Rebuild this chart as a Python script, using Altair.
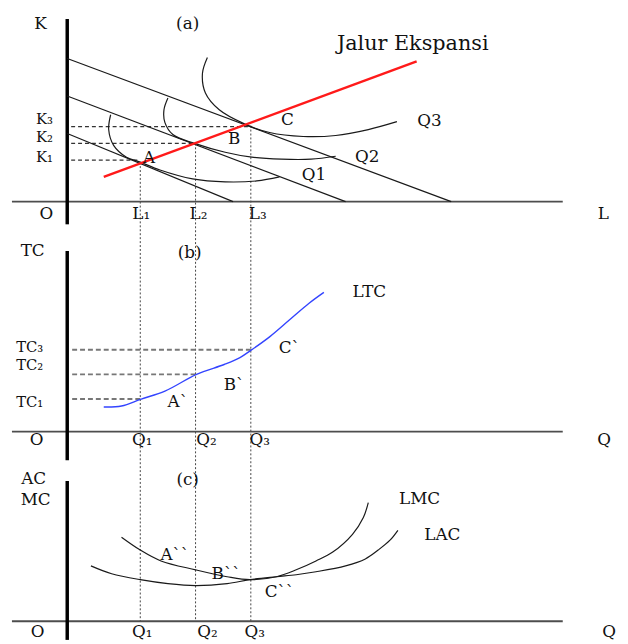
import altair as alt
import pandas as pd

# ---------------- data (diagram coordinates) ----------------
# Panel (a): isocost lines
isocost1_x = [68, 236]
isocost1_y = [131, 200]
isocost2_x = [68, 350]
isocost2_y = [93, 200]
isocost3_x = [68, 457]
isocost3_y = [55, 200]
# Panel (a): isoquants
q1_x = [112, 110, 115, 128, 142, 162, 195, 228, 260, 283]
q1_y = [112, 127, 143, 155, 160, 168, 177, 180, 179, 175]
q2_x = [170, 166, 167, 175, 197, 228, 255, 285, 315, 340]
q2_y = [95, 107, 120, 132, 141, 150, 155, 157, 157, 154]
q3_x = [210, 205, 208, 222, 247, 273, 307, 340, 373, 402]
q3_y = [54, 70, 90, 107, 121, 130, 134, 133, 127, 119]
# Panel (a): expansion path
expansion_x = [105, 422]
expansion_y = [175, 58]
# Panel (b): LTC
ltc_x = [105, 123, 143, 167, 199, 227, 243, 255, 273, 293, 313, 328]
ltc_y = [408, 407, 400, 392, 375, 365, 358, 350, 337, 320, 303, 292]
# Panel (c): LMC and LAC
lmc_x = [123, 142, 163, 198, 230, 253, 280, 300, 320, 337, 357, 368, 373]
lmc_y = [540, 553, 564, 573, 580, 583, 580, 573, 564, 555, 537, 520, 505]
lac_x = [92, 113, 142, 170, 198, 230, 253, 280, 300, 320, 350, 370, 383, 395, 403]
lac_y = [569, 577, 583, 587, 589, 587, 583, 580, 578, 575, 569, 562, 553, 543, 533]

# axes
v_axis_x = [68, 68, 68]
v_axis_y1 = [15, 250, 483]
v_axis_y2 = [223, 462, 644]
h_axis_y = [200, 433, 625]
h_axis_x1 = [12, 12, 12]
h_axis_x2 = [570, 570, 570]

# guide lines
k_dash_y = [158, 141, 124]
k_dash_x1 = [72, 72, 72]
k_dash_x2 = [142, 197, 254]
tc_dash_y = [400, 375, 350]
tc_dash_x1 = [73, 73, 73]
tc_dash_x2 = [143, 199, 255]
v_dot_x = [142, 198, 254]
v_dot_y1 = [160, 141, 123]
v_dot_y2 = [625, 625, 625]

# labels
label_text = ["K", "(a)", "K₃", "K₂", "K₁", "O", "L₁", "L₂", "L₃", "L",
              "A", "B", "C", "Q1", "Q2", "Q3",
              "TC", "(b)", "LTC", "TC₃", "TC₂", "TC₁", "O", "Q₁", "Q₂", "Q₃", "Q",
              "A`", "B`", "C`",
              "AC", "MC", "(c)", "LMC", "LAC", "A``", "B``", "C``",
              "O", "Q₁", "Q₂", "Q₃", "Q"]
label_x = [41, 190, 45, 45, 45, 47, 143, 201, 261, 611,
           151, 237, 291, 318, 372, 435,
           33, 192, 374, 30, 30, 30, 37, 144, 209, 263, 612,
           180, 237, 293,
           34, 36, 190, 425, 448, 177, 229, 283,
           38, 144, 210, 258, 617]
label_y = [20, 20, 116, 135, 155, 213, 213, 213, 213, 213,
           156, 137, 117, 173, 155, 118,
           250, 252, 292, 347, 366, 403, 442, 442, 442, 442, 442,
           403, 386, 348,
           481, 502, 482, 501, 538, 558, 577, 596,
           636, 636, 636, 636, 636]
label_size = [17, 17, 15, 15, 15, 17, 17, 17, 17, 17,
              17, 17, 17, 17, 17, 17,
              17, 17, 17, 15, 15, 15, 17, 17, 17, 17, 17,
              17, 17, 17,
              17, 17, 17, 17, 17, 17, 17, 17,
              17, 17, 17, 17, 17]
title_text = ["Jalur Ekspansi"]
title_x = [418]
title_y = [40]

# ---------------- build tables ----------------
def curve_df(name, xs, ys):
    return pd.DataFrame({"curve": name, "i": list(range(len(xs))), "x": xs, "y": ys})

black_curves = pd.concat([
    curve_df("iso1", isocost1_x, isocost1_y),
    curve_df("iso2", isocost2_x, isocost2_y),
    curve_df("iso3", isocost3_x, isocost3_y),
    curve_df("q1", q1_x, q1_y),
    curve_df("q2", q2_x, q2_y),
    curve_df("q3", q3_x, q3_y),
    curve_df("lmc", lmc_x, lmc_y),
    curve_df("lac", lac_x, lac_y),
])
red_df = curve_df("exp", expansion_x, expansion_y)
blue_df = curve_df("ltc", ltc_x, ltc_y)

vaxis_df = pd.DataFrame({"x": v_axis_x, "y": v_axis_y1, "y2": v_axis_y2})
haxis_df = pd.DataFrame({"x": h_axis_x1, "x2": h_axis_x2, "y": h_axis_y})
kdash_df = pd.DataFrame({"x": k_dash_x1, "x2": k_dash_x2, "y": k_dash_y})
tcdash_df = pd.DataFrame({"x": tc_dash_x1, "x2": tc_dash_x2, "y": tc_dash_y})
vdot_df = pd.DataFrame({"x": v_dot_x, "y": v_dot_y1, "y2": v_dot_y2})
labels_df = pd.DataFrame({"t": label_text, "x": label_x, "y": label_y, "s": label_size})
title_df = pd.DataFrame({"t": title_text, "x": title_x, "y": title_y})

xs = alt.Scale(domain=[8, 628], nice=False, zero=False)
ys = alt.Scale(domain=[8, 644], reverse=True, nice=False, zero=False)
X = alt.X("x:Q", scale=xs, axis=None)
Y = alt.Y("y:Q", scale=ys, axis=None)

FONT = "DejaVu Serif"

black = alt.Chart(black_curves).mark_line(
    interpolate="catmull-rom", stroke="#1a1a1a", strokeWidth=1.2
).encode(x=X, y=Y, detail="curve:N", order="i:Q")

red = alt.Chart(red_df).mark_line(stroke="#ff1a1a", strokeWidth=2.5).encode(
    x=X, y=Y, order="i:Q")

blue = alt.Chart(blue_df).mark_line(
    interpolate="catmull-rom", stroke="#3344ff", strokeWidth=1.4
).encode(x=X, y=Y, order="i:Q")

vaxis = alt.Chart(vaxis_df).mark_rule(stroke="black", strokeWidth=3.5).encode(
    x=X, y=Y, y2="y2:Q")
haxis = alt.Chart(haxis_df).mark_rule(stroke="#4d4d4d", strokeWidth=2).encode(
    x=X, x2="x2:Q", y=Y)
kdash = alt.Chart(kdash_df).mark_rule(stroke="#333333", strokeWidth=1.3,
                                      strokeDash=[4, 3]).encode(x=X, x2="x2:Q", y=Y)
tcdash = alt.Chart(tcdash_df).mark_rule(stroke="#777777", strokeWidth=2,
                                        strokeDash=[5, 3]).encode(x=X, x2="x2:Q", y=Y)
vdot = alt.Chart(vdot_df).mark_rule(stroke="#444444", strokeWidth=1,
                                    strokeDash=[2, 2]).encode(x=X, y=Y, y2="y2:Q")

labels = alt.Chart(labels_df).mark_text(
    font=FONT, color="#111111", align="center", baseline="middle"
).encode(x=X, y=Y, text="t:N",
         size=alt.Size("s:Q", scale=None, legend=None))
title = alt.Chart(title_df).mark_text(
    font=FONT, fontSize=21, color="#111111", align="center", baseline="middle"
).encode(x=X, y=Y, text="t:N")

chart = alt.layer(
    vdot, kdash, tcdash, haxis, vaxis, black, blue, red, labels, title
).properties(
    width=620, height=636, padding=0,
    autosize=alt.AutoSizeParams(type="none"),
    background="white",
).configure_view(stroke=None)

chart.save("out.html", embed_options={"renderer": "svg", "actions": False})
